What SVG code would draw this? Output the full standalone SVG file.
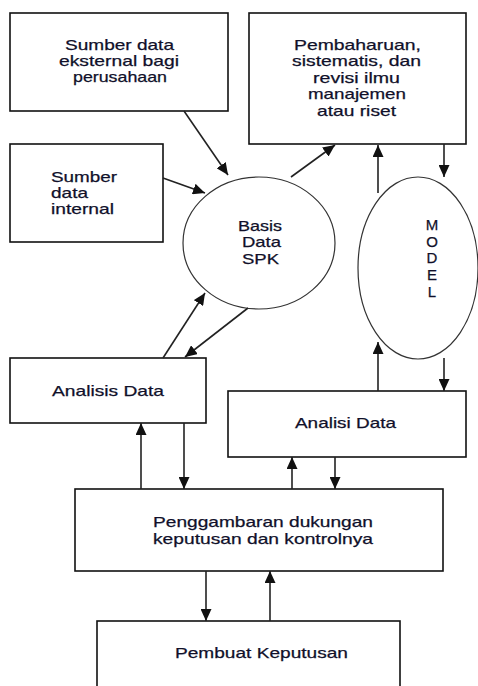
<svg xmlns="http://www.w3.org/2000/svg" width="478" height="686" viewBox="0 0 478 686">
<defs>
<style>
.box{fill:#fff;stroke:#111;stroke-width:1.6}
.ell{fill:#fff;stroke:#333;stroke-width:1.2}
.t{font-family:"Liberation Sans",Arial,sans-serif;font-size:15px;fill:#10102a;stroke:#10102a;stroke-width:0.25}
.c{text-anchor:middle}
.ln{fill:none;stroke:#222;stroke-width:1.6;marker-end:url(#ah)}
</style>
<marker id="ah" markerUnits="userSpaceOnUse" markerWidth="12" markerHeight="11" refX="12" refY="5.5" orient="auto">
<path d="M0,0 L12,5.5 L0,11 z" fill="#111"/>
</marker>
</defs>
<rect width="478" height="686" fill="#fff"/>

<g id="eksternal">
<rect class="box" x="10" y="13" width="218" height="98"/>
<text class="t" x="65" y="50" textLength="109" lengthAdjust="spacingAndGlyphs">Sumber data</text>
<text class="t" x="59" y="66" textLength="120" lengthAdjust="spacingAndGlyphs">eksternal bagi</text>
<text class="t" x="73" y="82" textLength="94" lengthAdjust="spacingAndGlyphs">perusahaan</text>
</g>

<g id="internal">
<rect class="box" x="10" y="144" width="153" height="98"/>
<text class="t" x="51" y="182" textLength="66" lengthAdjust="spacingAndGlyphs">Sumber</text>
<text class="t" x="51" y="198" textLength="37" lengthAdjust="spacingAndGlyphs">data</text>
<text class="t" x="51" y="214" textLength="63" lengthAdjust="spacingAndGlyphs">internal</text>
</g>

<g id="pembaharuan">
<rect class="box" x="249" y="13" width="217" height="131"/>
<text class="t" x="294" y="50" textLength="127" lengthAdjust="spacingAndGlyphs">Pembaharuan,</text>
<text class="t" x="292" y="66" textLength="129" lengthAdjust="spacingAndGlyphs">sistematis, dan</text>
<text class="t" x="313" y="83" textLength="87" lengthAdjust="spacingAndGlyphs">revisi ilmu</text>
<text class="t" x="308" y="99" textLength="98" lengthAdjust="spacingAndGlyphs">manajemen</text>
<text class="t" x="317" y="116" textLength="79" lengthAdjust="spacingAndGlyphs">atau riset</text>
</g>

<g id="basis-data">
<ellipse class="ell" cx="259" cy="243" rx="76" ry="66"/>
<text class="t" x="238" y="231" textLength="44" lengthAdjust="spacingAndGlyphs">Basis</text>
<text class="t" x="242" y="247" textLength="39" lengthAdjust="spacingAndGlyphs">Data</text>
<text class="t" x="242" y="264" textLength="37" lengthAdjust="spacingAndGlyphs">SPK</text>
</g>

<g id="model">
<ellipse class="ell" cx="418" cy="268" rx="60" ry="91"/>
<text class="t c" x="432" y="230">M</text>
<text class="t c" x="432" y="247">O</text>
<text class="t c" x="432" y="263">D</text>
<text class="t c" x="432" y="280">E</text>
<text class="t c" x="432" y="297">L</text>
</g>

<g id="analisis-data">
<rect class="box" x="10" y="358" width="196" height="65"/>
<text class="t" x="52" y="396" textLength="112" lengthAdjust="spacingAndGlyphs">Analisis Data</text>
</g>

<g id="analisi-data">
<rect class="box" x="228" y="391" width="238" height="66"/>
<text class="t" x="295" y="428" textLength="101" lengthAdjust="spacingAndGlyphs">Analisi Data</text>
</g>

<g id="penggambaran">
<rect class="box" x="75" y="489" width="368" height="82"/>
<text class="t" x="153" y="527" textLength="220" lengthAdjust="spacingAndGlyphs">Penggambaran dukungan</text>
<text class="t" x="153" y="544" textLength="220" lengthAdjust="spacingAndGlyphs">keputusan dan kontrolnya</text>
</g>

<g id="pembuat">
<rect class="box" x="97" y="621" width="303" height="80"/>
<text class="t" x="175" y="658" textLength="173" lengthAdjust="spacingAndGlyphs">Pembuat Keputusan</text>
</g>

<g id="connectors">
<line class="ln" x1="184" y1="111" x2="228" y2="175"/>
<line class="ln" x1="163" y1="178" x2="205" y2="193"/>
<line class="ln" x1="291" y1="177" x2="335" y2="145"/>
<line class="ln" x1="378" y1="193" x2="378" y2="145"/>
<line class="ln" x1="444" y1="144" x2="444" y2="177"/>
<line class="ln" x1="163" y1="358" x2="205" y2="293"/>
<line class="ln" x1="248" y1="308" x2="185" y2="357"/>
<line class="ln" x1="378" y1="391" x2="378" y2="342"/>
<line class="ln" x1="444" y1="358" x2="444" y2="391"/>
<line class="ln" x1="141" y1="489" x2="141" y2="423"/>
<line class="ln" x1="184" y1="423" x2="184" y2="489"/>
<line class="ln" x1="292" y1="489" x2="292" y2="457"/>
<line class="ln" x1="335" y1="457" x2="335" y2="489"/>
<line class="ln" x1="206" y1="571" x2="206" y2="621"/>
<line class="ln" x1="270" y1="621" x2="270" y2="571"/>
</g>
</svg>
